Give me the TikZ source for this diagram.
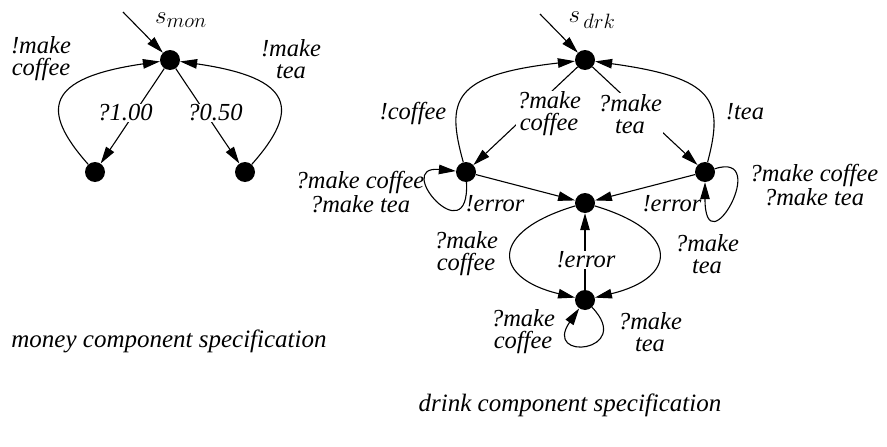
\documentclass[tikz,border=0pt]{standalone}
\usepackage{fontspec}
\setmainfont{Liberation Serif}
\usetikzlibrary{arrows.meta}
\begin{document}
\begin{tikzpicture}[x=1pt,y=-1pt,
  state/.style={circle,fill=black,inner sep=0pt,minimum size=20pt},
  lab/.style={font=\fontsize{24.5}{22}\selectfont\itshape,align=center,inner sep=1pt},
  mlab/.style={font=\fontsize{30}{30}\selectfont,inner sep=0pt},
  captext/.style={font=\fontsize{25}{28}\selectfont\itshape,inner sep=0pt},
  arr/.style={line width=1.1pt,-{Triangle[length=17pt,width=9.5pt]}},
  wb/.style={fill=white}]
\useasboundingbox (0,0) rectangle (887,447);

% money component
\node[state] (mon) at (170,60) {};
\node[state] (mL) at (95,172) {};
\node[state] (mR) at (245,172) {};
\coordinate (mi) at (123,12);
\node[mlab] (smon) at (181,20) {$s_{mon}$};
\draw[arr] (mi) -- (mon);
\draw[arr] (mon) -- (mL);
\draw[arr] (mon) -- (mR);
\draw[arr] (mL) .. controls (40,110) and (45,78) .. (mon);
\draw[arr] (mR) .. controls (300,110) and (295,78) .. (mon);
\node[lab,wb] (l100) at (125,113) {?1.00};
\node[lab,wb] (l050) at (215,113) {?0.50};
\node[lab] (lmc) at (41,59) {!make\\coffee};
\node[lab] (lmt) at (291,59) {!make\\tea};
\node[captext] (capm) at (169,341) {money component specification};

% drink component
\node[state] (drk) at (585,60) {};
\node[state] (L) at (466,172) {};
\node[state] (R) at (705,172) {};
\node[state] (M) at (585,203) {};
\node[state] (B) at (585,300) {};
\coordinate (di) at (540,14);
\node[mlab] (sdrk) at (592,20) {$s_{\,drk}$};
\draw[arr] (di) -- (drk);
\draw[arr] (drk) -- (L);
\draw[arr] (drk) -- (R);
\draw[arr] (L) .. controls (446,100) and (452,75) .. (drk);
\draw[arr] (R) .. controls (724,100) and (715,78) .. (drk);
\draw[arr] (L) .. controls (470,255) and (392,165) .. (L);
\draw[arr] (R) .. controls (772,150) and (705,270) .. (R);
\draw[arr] (L) -- (M);
\draw[arr] (R) -- (M);
\draw[arr] (M) .. controls (488,232) and (493,278) .. (B);
\draw[arr] (M) .. controls (682,232) and (677,278) .. (B);
\draw[arr] (B) -- (M);
\draw[arr] (B) .. controls (635,352) and (542,362) .. (B);

\node[lab,wb] (ldc) at (549,114) {?make\\coffee};
\node[lab,wb] (ldt) at (630,114) {?make\\tea};
\node[lab] (lco) at (413,113) {!coffee};
\node[lab] (ltea) at (745,112) {!tea};
\node[lab] (lLl) at (360,192) {?make coffee\\?make tea};
\node[lab] (lRl) at (814,185) {?make coffee\\?make tea};
\node[lab] (leL) at (495,204) {!error};
\node[lab] (leR) at (672,204) {!error};
\node[lab] (lMBc) at (466,254) {?make\\coffee};
\node[lab] (lMBt) at (707,254) {?make\\tea};
\node[lab,wb] (leB) at (586,260) {!error};
\node[lab] (lBc) at (523,332) {?make\\coffee};
\node[lab] (lBt) at (650,332) {?make\\tea};
\node[captext] (capd) at (570,405) {drink component specification};
\end{tikzpicture}
\end{document}
